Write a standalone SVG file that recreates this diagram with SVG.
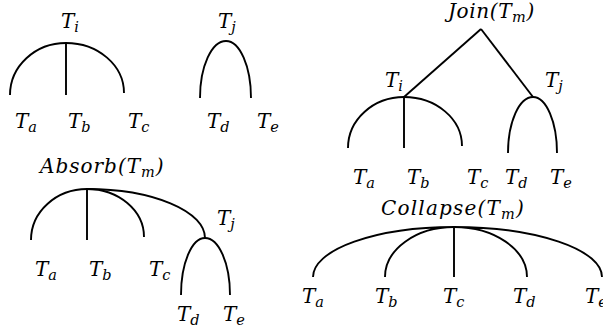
<svg xmlns="http://www.w3.org/2000/svg" width="603" height="331" viewBox="0 0 603 331">
<style>
text{font-family:"DejaVu Serif","Liberation Serif",serif;font-style:italic;font-size:20px;fill:#000}
.s{font-size:14.5px}
.c path,.c line{stroke:#000;stroke-width:1.9;fill:none}
</style>
<rect width="603" height="331" fill="#fff"/>
<g class="c" id="connectors">
<path d="M10,95 A56,52 0 0 1 66,43 A58,50 0 0 1 124,93"/>
<line x1="66" y1="43" x2="66" y2="95"/>
<path d="M200,98 A26,57 0 0 1 226,41 A25,57 0 0 1 251,98"/>
<line x1="481" y1="29" x2="404" y2="97"/>
<line x1="481" y1="29" x2="533" y2="97"/>
<path d="M348,148 A56,51 0 0 1 404,97 A58,49 0 0 1 462,146"/>
<line x1="404" y1="97" x2="404" y2="148"/>
<path d="M508,153 A25,56 0 0 1 533,97 A24,56 0 0 1 557,153"/>
<path d="M31,240 A56,51 0 0 1 87,189 A57,48 0 0 1 144,237"/>
<line x1="87" y1="189" x2="87" y2="240"/>
<path d="M87,189 A118,49 0 0 1 205,238"/>
<path d="M181,295 A24,57 0 0 1 205,238 A25,57 0 0 1 230,295"/>
<path d="M313,277 A141,50 0 0 1 454,227 A69,50 0 0 0 385,277"/>
<line x1="454" y1="227" x2="454" y2="277"/>
<path d="M527,277 A73,50 0 0 0 454,227 A148,50 0 0 1 602,277"/>
</g>
<g id="tree-i">
<text x="61" y="28">T<tspan class="s" dy="4">i</tspan></text>
<text x="15" y="128">T<tspan class="s" dy="4">a</tspan></text>
<text x="68" y="128">T<tspan class="s" dy="4">b</tspan></text>
<text x="128" y="128">T<tspan class="s" dy="4">c</tspan></text>
</g>
<g id="tree-j">
<text x="218" y="28">T<tspan class="s" dy="4">j</tspan></text>
<text x="207" y="128">T<tspan class="s" dy="4">d</tspan></text>
<text x="257" y="128">T<tspan class="s" dy="4">e</tspan></text>
</g>
<g id="join">
<text x="448" y="18" letter-spacing="0.6">Join(T<tspan class="s" dy="4">m</tspan><tspan dy="-4">)</tspan></text>
<text x="385" y="87">T<tspan class="s" dy="4">i</tspan></text>
<text x="545" y="87">T<tspan class="s" dy="4">j</tspan></text>
<text x="353" y="184">T<tspan class="s" dy="4">a</tspan></text>
<text x="407" y="184">T<tspan class="s" dy="4">b</tspan></text>
<text x="467" y="184">T<tspan class="s" dy="4">c</tspan></text>
<text x="505" y="184">T<tspan class="s" dy="4">d</tspan></text>
<text x="550" y="184">T<tspan class="s" dy="4">e</tspan></text>
</g>
<g id="absorb">
<text x="40" y="173" letter-spacing="1">Absorb(T<tspan class="s" dy="4">m</tspan><tspan dy="-4">)</tspan></text>
<text x="217" y="225">T<tspan class="s" dy="4">j</tspan></text>
<text x="35" y="276">T<tspan class="s" dy="4">a</tspan></text>
<text x="89" y="276">T<tspan class="s" dy="4">b</tspan></text>
<text x="149" y="276">T<tspan class="s" dy="4">c</tspan></text>
<text x="177" y="321">T<tspan class="s" dy="4">d</tspan></text>
<text x="223" y="321">T<tspan class="s" dy="4">e</tspan></text>
</g>
<g id="collapse">
<text x="381" y="215" letter-spacing="1.2">Collapse(T<tspan class="s" dy="4">m</tspan><tspan dy="-4">)</tspan></text>
<text x="302" y="303">T<tspan class="s" dy="4">a</tspan></text>
<text x="375" y="303">T<tspan class="s" dy="4">b</tspan></text>
<text x="443" y="303">T<tspan class="s" dy="4">c</tspan></text>
<text x="513" y="303">T<tspan class="s" dy="4">d</tspan></text>
<text x="585" y="303">T<tspan class="s" dy="4">e</tspan></text>
</g>
</svg>
